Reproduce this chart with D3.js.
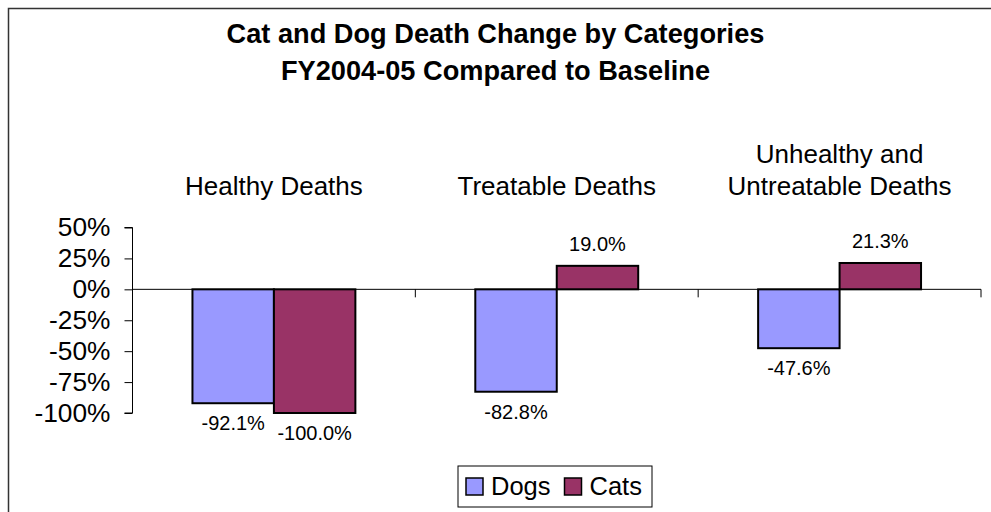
<!DOCTYPE html>
<html>
<head>
<meta charset="utf-8">
<script src="https://cdn.jsdelivr.net/npm/d3@7"></script>
<style>
  html, body { margin: 0; padding: 0; background: #fff; }
  svg { display: block; font-family: "Liberation Sans", Arial, sans-serif; }
</style>
</head>
<body>
<svg id="chart" width="991" height="512"></svg>
<script>
// Chart data
const categories = ["Healthy Deaths", "Treatable Deaths", "Unhealthy and Untreatable Deaths"];
const categoryLabelLines = [["Healthy Deaths"], ["Treatable Deaths"], ["Unhealthy and", "Untreatable Deaths"]];
const seriesNames = ["Dogs", "Cats"];
const dogs = [-92.1, -82.8, -47.6];
const cats = [-100.0, 19.0, 21.3];
const yTicks = [50, 25, 0, -25, -50, -75, -100];
const titleLines = ["Cat and Dog Death Change by Categories", "FY2004-05 Compared to Baseline"];

const colors = { Dogs: "#9999ff", Cats: "#993366" };
const values = { Dogs: dogs, Cats: cats };

const svg = d3.select("#chart");

// Outer chart frame
svg.append("rect")
  .attr("x", 8.5).attr("y", 8.5)
  .attr("width", 1000).attr("height", 520)
  .attr("fill", "none").attr("stroke", "#333").attr("stroke-width", 1.5);

// Title
svg.append("g").selectAll("text").data(titleLines).join("text")
  .attr("x", 495.5)
  .attr("y", (d, i) => 43 + i * 36.5)
  .attr("text-anchor", "middle")
  .attr("font-weight", "bold")
  .attr("font-size", 27.2)
  .attr("fill", "#000")
  .text(d => d);

// Scales
const plotLeft = 132.5, plotRight = 981;
const x0 = d3.scaleBand().domain(categories).range([plotLeft, plotRight])
  .paddingInner(0.424).paddingOuter(0.212);
const x1 = d3.scaleBand().domain(seriesNames).range([0, x0.bandwidth()]).padding(0);
const y = d3.scaleLinear().domain([-100, 50]).range([413, 227.5]);

// Y axis
const yAxis = svg.append("g")
  .attr("transform", `translate(${plotLeft},0)`)
  .call(d3.axisLeft(y).tickValues(yTicks).tickSize(8).tickPadding(14)
    .tickFormat(d => d + "%"));
yAxis.select(".domain").attr("stroke", "#000").attr("stroke-width", 1)
  .attr("d", `M-8,${y(50)}H0V${y(-100)}H-8`);
yAxis.selectAll(".tick line").attr("stroke", "#000");
yAxis.selectAll(".tick text")
  .attr("font-size", 26.3).attr("fill", "#000")
  .attr("font-family", "Liberation Sans, Arial, sans-serif");

// Category labels (above the plot)
const catLabels = svg.append("g");
categories.forEach((c, i) => {
  const lines = categoryLabelLines[i];
  const cx = x0(c) + x0.bandwidth() / 2;
  lines.forEach((line, j) => {
    catLabels.append("text")
      .attr("x", cx)
      .attr("y", 195 - (lines.length - 1 - j) * 32)
      .attr("text-anchor", "middle")
      .attr("font-size", 26)
      .attr("fill", "#000")
      .text(line);
  });
});

// Bars
const rows = [];
categories.forEach((c, i) => {
  seriesNames.forEach(s => rows.push({ category: c, series: s, value: values[s][i] }));
});

svg.append("g").selectAll("rect").data(rows).join("rect")
  .attr("x", d => x0(d.category) + x1(d.series))
  .attr("y", d => y(Math.max(0, d.value)))
  .attr("width", x1.bandwidth())
  .attr("height", d => Math.abs(y(d.value) - y(0)))
  .attr("fill", d => colors[d.series])
  .attr("stroke", "#000")
  .attr("stroke-width", 2);

// Zero line and category tick marks
const axisG = svg.append("g");
axisG.append("line")
  .attr("x1", plotLeft).attr("x2", plotRight)
  .attr("y1", y(0)).attr("y2", y(0))
  .attr("stroke", "#000").attr("stroke-width", 1);
const gapHalf = (x0.step() - x0.bandwidth()) / 2;
axisG.selectAll("line.ctick").data(categories).join("line")
  .attr("class", "ctick")
  .attr("x1", d => x0(d) + x0.bandwidth() + gapHalf)
  .attr("x2", d => x0(d) + x0.bandwidth() + gapHalf)
  .attr("y1", y(0)).attr("y2", y(0) + 8)
  .attr("stroke", "#000").attr("stroke-width", 1);

// Value labels
svg.append("g").selectAll("text").data(rows).join("text")
  .attr("x", d => x0(d.category) + x1(d.series) + x1.bandwidth() / 2)
  .attr("y", d => d.value < 0 ? y(d.value) + 27 : y(d.value) - 15)
  .attr("text-anchor", "middle")
  .attr("font-size", 20)
  .attr("fill", "#000")
  .text(d => d.value.toFixed(1) + "%");

// Legend
const legend = svg.append("g");
legend.append("rect")
  .attr("x", 458).attr("y", 466)
  .attr("width", 194).attr("height", 41)
  .attr("fill", "#fff").attr("stroke", "#000").attr("stroke-width", 1);
const legendX = [466, 564.5];
seriesNames.forEach((s, i) => {
  legend.append("rect")
    .attr("x", legendX[i]).attr("y", 478)
    .attr("width", 17).attr("height", 17)
    .attr("fill", colors[s]).attr("stroke", "#000").attr("stroke-width", 1.5);
  legend.append("text")
    .attr("x", legendX[i] + 25).attr("y", 495)
    .attr("font-size", 25.5)
    .attr("fill", "#000")
    .text(s);
});
</script>
</body>
</html>
